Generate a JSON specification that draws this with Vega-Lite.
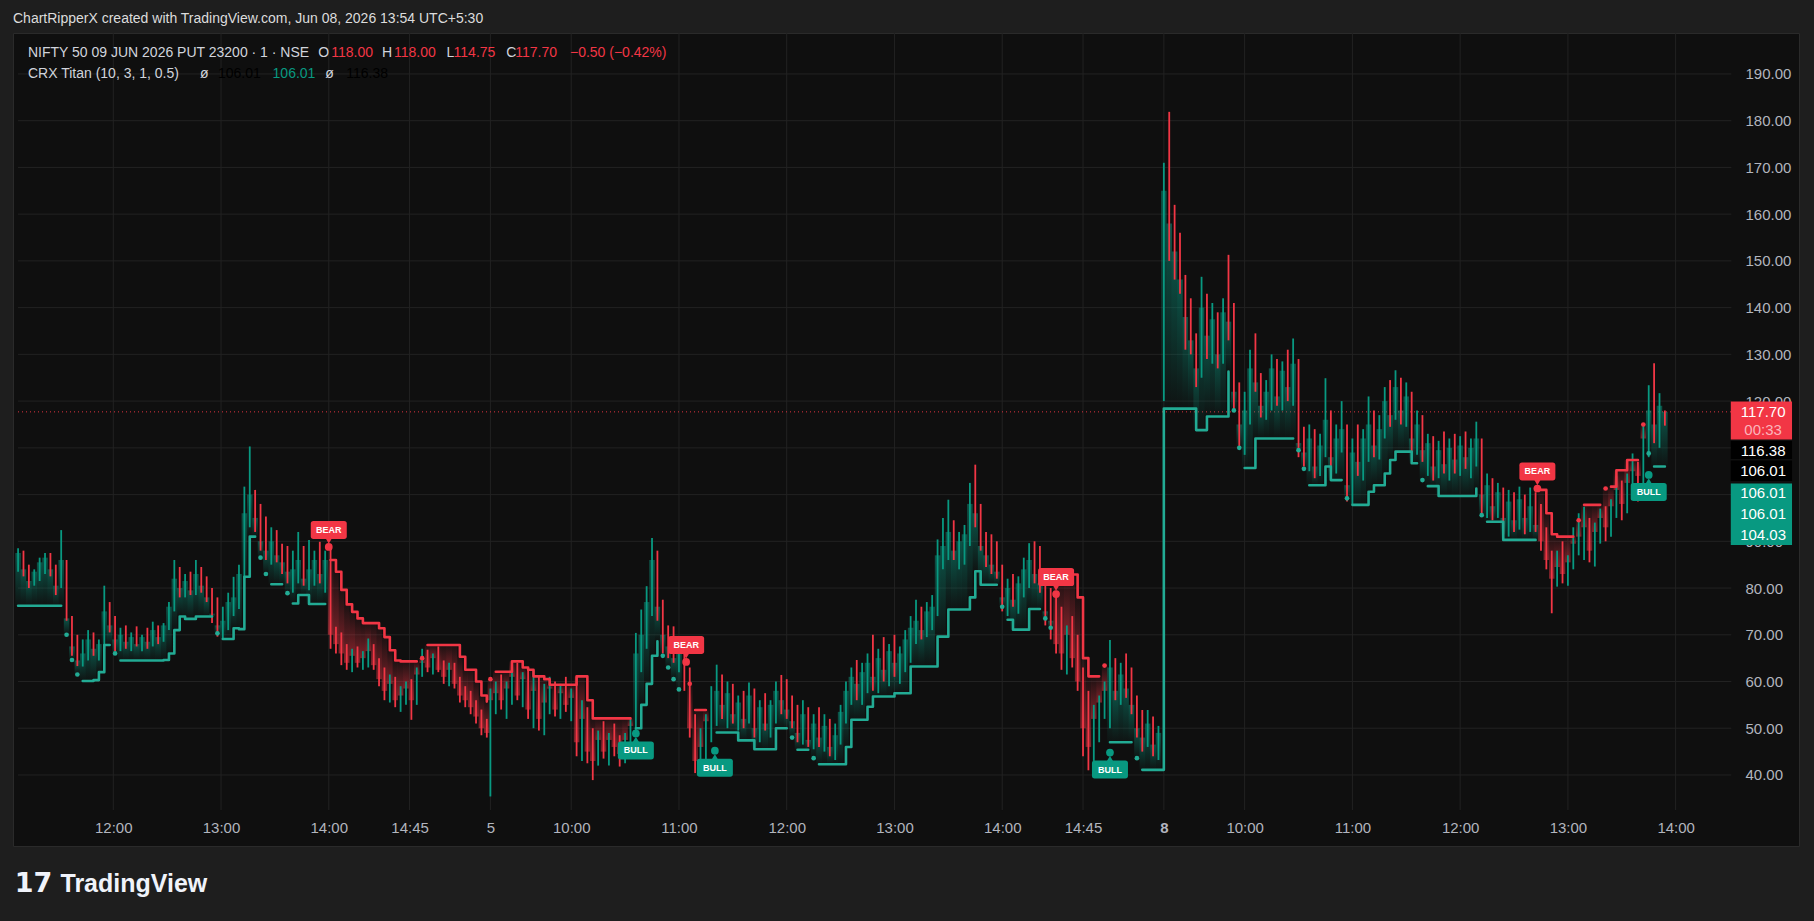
{
"$schema":"https://vega.github.io/schema/vega-lite/v6.json",
"width":1786,"height":813,
"autosize":{"type":"none"},
"padding":{"left":13,"top":33,"right":15,"bottom":75},
"background":"#1e1e1e",
"title":{"text":"ChartRipperX created with TradingView.com, Jun 08, 2026 13:54 UTC+5:30","anchor":"start","frame":"group","font":"Liberation Sans","fontSize":14,"fontWeight":"normal","color":"#dcdcdc","offset":-4,"baseline":"alphabetic"},
"config":{"view":{"fill":"#0f0f0f","stroke":"#2a2a2a","strokeWidth":1},"axis":{"grid":false,"ticks":false,"tickSize":0,"domain":false,"labelFont":"Liberation Sans","labelFontSize":15,"labelColor":"#b2b5be"},"text":{"font":"Liberation Sans"}},
"datasets":{
"hg":[{"v":40},{"v":50},{"v":60},{"v":70},{"v":80},{"v":90},{"v":100},{"v":110},{"v":120},{"v":130},{"v":140},{"v":150},{"v":160},{"v":170},{"v":180},{"v":190}],
"vg":[{"v":165},{"v":225},{"v":285},{"v":330},{"v":375},{"v":420},{"v":480},{"v":540},{"v":600},{"v":660},{"v":705},{"v":750},{"v":795},{"v":855},{"v":915},{"v":975},{"v":1035}],
"bars":[
{"i":112,"o":85,"h":88.5,"l":83.5,"c":87.5,"u":76.2},
{"i":115,"o":87.5,"h":88,"l":82.5,"c":84,"u":76.2},
{"i":118,"o":84,"h":85,"l":80,"c":81.5,"u":76.2},
{"i":121,"o":81.5,"h":84,"l":80.5,"c":83.5,"u":76.2},
{"i":124,"o":83.5,"h":86.5,"l":81.5,"c":85.5,"u":76.2},
{"i":127,"o":85.5,"h":87.5,"l":83,"c":86.5,"u":76.2},
{"i":130,"o":86.5,"h":87.5,"l":82.5,"c":84,"u":76.2},
{"i":133,"o":84,"h":85,"l":78.5,"c":80.5,"u":76.2},
{"i":136,"o":80.5,"h":92.4,"l":80,"c":86,"u":76.2},
{"i":139,"o":86,"h":86,"l":73,"c":73.5,"ud":70},
{"i":142,"o":73.5,"h":74,"l":65.5,"c":67.5,"ud":64.6},
{"i":145,"o":67.5,"h":70,"l":63.3,"c":64.5,"ud":61.5},
{"i":148,"o":64.5,"h":69,"l":63.2,"c":66,"u":60.1},
{"i":151,"o":66,"h":71,"l":64.5,"c":69,"u":60.1},
{"i":154,"o":69,"h":70.5,"l":65.5,"c":67,"u":60.3},
{"i":157,"o":67,"h":69,"l":64.5,"c":68,"u":62},
{"i":160,"o":68,"h":80.5,"l":67,"c":75,"u":67.8},
{"i":163,"o":75,"h":77,"l":70.5,"c":72,"u":67.8},
{"i":166,"o":72,"h":74,"l":66.5,"c":69,"ud":66},
{"i":169,"o":69,"h":71.5,"l":66.5,"c":70,"u":64.5},
{"i":172,"o":70,"h":72,"l":67,"c":68.5,"u":64.5},
{"i":175,"o":68.5,"h":70.5,"l":66.5,"c":69.5,"u":64.5},
{"i":178,"o":69.5,"h":71.8,"l":67.5,"c":68,"u":64.5},
{"i":181,"o":68,"h":70,"l":66.5,"c":69.5,"u":64.5},
{"i":184,"o":69.5,"h":71.5,"l":67,"c":68.5,"u":64.5},
{"i":187,"o":68.5,"h":72.8,"l":67.5,"c":71,"u":64.5},
{"i":190,"o":71,"h":72,"l":68,"c":69.5,"u":64.5},
{"i":193,"o":69.5,"h":72.5,"l":68.5,"c":72,"u":64.6},
{"i":196,"o":72,"h":77,"l":71,"c":76,"u":66},
{"i":199,"o":76,"h":86,"l":75,"c":82,"u":71},
{"i":202,"o":82,"h":84.5,"l":78,"c":80,"u":73.9},
{"i":205,"o":80,"h":83,"l":78,"c":81.5,"u":73.4},
{"i":208,"o":81.5,"h":83.5,"l":78.5,"c":79.5,"u":73.4},
{"i":211,"o":79.5,"h":86,"l":78.5,"c":83,"u":73.9},
{"i":214,"o":83,"h":84.5,"l":79,"c":80.5,"u":73.9},
{"i":217,"o":80.5,"h":82.5,"l":77,"c":78,"u":73.9},
{"i":220,"o":78,"h":80,"l":72.5,"c":74.5,"u":73.9},
{"i":223,"o":74.5,"h":78,"l":69.6,"c":72,"ud":70.3},
{"i":226,"o":72,"h":76,"l":69,"c":73,"u":69.1},
{"i":229,"o":73,"h":79,"l":71,"c":77,"u":69.1},
{"i":232,"o":77,"h":82.4,"l":74,"c":78,"u":71.4},
{"i":235,"o":78,"h":85,"l":75.5,"c":83,"u":71.2},
{"i":238,"o":83,"h":101.7,"l":82,"c":96,"u":82.4},
{"i":241,"o":96,"h":110.3,"l":93,"c":100,"u":91},
{"i":244,"o":100,"h":101,"l":92,"c":95,"u":91},
{"i":247,"o":95,"h":98,"l":88,"c":90,"ud":86.5},
{"i":250,"o":90,"h":95.3,"l":86,"c":88,"ud":83},
{"i":253,"o":88,"h":93,"l":85,"c":90,"u":80.8},
{"i":256,"o":90,"h":92.4,"l":85.5,"c":87,"u":80.8},
{"i":259,"o":87,"h":89.5,"l":83,"c":85.5,"u":80.8},
{"i":262,"o":85.5,"h":89,"l":81,"c":83.5,"ud":78.9},
{"i":265,"o":83.5,"h":88,"l":79,"c":84,"u":76.7},
{"i":268,"o":84,"h":92,"l":81,"c":86,"u":78.5},
{"i":271,"o":86,"h":89,"l":80.5,"c":82,"u":78.5},
{"i":274,"o":82,"h":90.3,"l":79.5,"c":84,"u":76.6},
{"i":277,"o":84,"h":88,"l":80.5,"c":86,"u":76.6},
{"i":280,"o":86,"h":89.9,"l":81,"c":83,"u":76.6},
{"i":283,"o":83,"h":88,"l":79,"c":86,"u":76.6},
{"i":286,"o":86,"h":88.8,"l":67,"c":70,"r":86},
{"i":289,"o":70,"h":71.7,"l":66,"c":68,"r":83.5},
{"i":292,"o":68,"h":70.5,"l":63.5,"c":66,"r":79.6},
{"i":295,"o":66,"h":68,"l":62.5,"c":64,"r":76.5},
{"i":298,"o":64,"h":67,"l":62,"c":65.5,"r":74.9},
{"i":301,"o":65.5,"h":67.5,"l":63,"c":64,"r":73.5},
{"i":304,"o":64,"h":66.5,"l":62.5,"c":65,"r":72.5},
{"i":307,"o":65,"h":69.2,"l":63,"c":66.5,"r":72.5},
{"i":310,"o":66.5,"h":68,"l":62.5,"c":63.5,"r":72.5},
{"i":313,"o":63.5,"h":65,"l":59,"c":60.5,"r":71.4},
{"i":316,"o":60.5,"h":63,"l":56,"c":58,"r":69.5},
{"i":319,"o":58,"h":61.5,"l":55.5,"c":59.5,"r":66.7},
{"i":322,"o":59.5,"h":61,"l":54.5,"c":56,"r":64.5},
{"i":325,"o":56,"h":59,"l":53.5,"c":57,"r":64.3},
{"i":328,"o":57,"h":60,"l":55,"c":58.5,"r":64.3},
{"i":331,"o":58.5,"h":60.5,"l":51.8,"c":56,"r":64.3},
{"i":334,"o":56,"h":63,"l":55,"c":61.5,"r":64.3},
{"i":337,"o":61.5,"h":67,"l":61,"c":64,"rd":65},
{"i":340,"o":64,"h":66.8,"l":62,"c":63,"r":67.8},
{"i":343,"o":63,"h":66,"l":61.5,"c":65,"r":67.8},
{"i":346,"o":65,"h":67.5,"l":62,"c":62.5,"r":67.8},
{"i":349,"o":62.5,"h":64.5,"l":59.5,"c":61,"r":67.8},
{"i":352,"o":61,"h":64,"l":59,"c":62.5,"r":67.8},
{"i":355,"o":62.5,"h":64,"l":58.5,"c":59.5,"r":67.8},
{"i":358,"o":59.5,"h":61,"l":55.5,"c":57,"r":65.3},
{"i":361,"o":57,"h":59,"l":54.5,"c":56,"r":62.5},
{"i":364,"o":56,"h":58,"l":53,"c":54.5,"r":62.5},
{"i":367,"o":54.5,"h":56,"l":51,"c":52.5,"r":60},
{"i":370,"o":52.5,"h":54,"l":48.5,"c":50,"r":57},
{"i":373,"o":50,"h":52,"l":48,"c":49,"r":55.7},
{"i":375,"o":48,"h":58.5,"l":35.4,"c":56,"rd":60.5},
{"i":378,"o":56,"h":60,"l":53,"c":57.5,"r":62.1},
{"i":381,"o":57.5,"h":61.5,"l":54,"c":56,"r":62.1},
{"i":384,"o":56,"h":60,"l":52,"c":58.5,"r":62.1},
{"i":387,"o":58.5,"h":63.5,"l":55,"c":61,"r":64.3},
{"i":390,"o":61,"h":64,"l":56,"c":57,"r":64.3},
{"i":393,"o":57,"h":62,"l":54.5,"c":60.5,"r":63},
{"i":396,"o":60.5,"h":63,"l":52,"c":54,"r":62.5},
{"i":399,"o":54,"h":62.5,"l":50,"c":58,"r":61.1},
{"i":402,"o":58,"h":61,"l":49.5,"c":52,"r":61.1},
{"i":405,"o":52,"h":59.5,"l":48.5,"c":55.5,"r":60.5},
{"i":408,"o":55.5,"h":61,"l":53,"c":58.5,"r":59.3},
{"i":411,"o":58.5,"h":60,"l":52.5,"c":54,"r":59.3},
{"i":414,"o":54,"h":59.5,"l":52,"c":57.5,"r":59.3},
{"i":417,"o":57.5,"h":61,"l":53.5,"c":55,"r":59.3},
{"i":420,"o":55,"h":58.5,"l":51.5,"c":56.5,"r":59.3},
{"i":423,"o":56.5,"h":61,"l":44,"c":47,"r":61.1},
{"i":426,"o":47,"h":56,"l":43,"c":52,"r":61.1},
{"i":429,"o":52,"h":54.5,"l":42.5,"c":45,"r":56},
{"i":432,"o":45,"h":50,"l":38.9,"c":43,"r":52.1},
{"i":435,"o":43,"h":49.5,"l":42,"c":47.5,"r":52.1},
{"i":438,"o":47.5,"h":51.5,"l":43.5,"c":45,"r":52.1},
{"i":441,"o":45,"h":49,"l":42,"c":47.5,"r":52.1},
{"i":444,"o":47.5,"h":51,"l":44,"c":46,"r":52.1},
{"i":447,"o":46,"h":48.5,"l":41.8,"c":44.5,"r":52.1},
{"i":450,"o":44.5,"h":49,"l":42.5,"c":47.5,"r":52.1},
{"i":453,"o":47.5,"h":52,"l":45,"c":50.5,"r":52.1},
{"i":456,"o":50.5,"h":70.4,"l":48.5,"c":66,"u":50},
{"i":459,"o":66,"h":75.4,"l":62,"c":70,"u":55},
{"i":462,"o":70,"h":80.4,"l":67,"c":77,"u":59.5},
{"i":465,"o":77,"h":90.7,"l":74,"c":86,"u":65.5},
{"i":468,"o":86,"h":88,"l":73,"c":76,"u":68.6},
{"i":471,"o":76,"h":77.5,"l":66,"c":70,"ud":65.5},
{"i":474,"o":70,"h":72,"l":65,"c":67.5,"ud":63},
{"i":477,"o":67.5,"h":71.8,"l":64,"c":65,"ud":60.5},
{"i":480,"o":65,"h":68.5,"l":62,"c":66.5,"ud":58.3},
{"i":483,"o":66.5,"h":67.5,"l":58,"c":60},
{"i":486,"o":60,"h":63,"l":48,"c":50,"rd":59.5},
{"i":489,"o":50,"h":53,"l":40.4,"c":43,"r":53.9},
{"i":492,"o":43,"h":50,"l":41.5,"c":46,"r":53.9},
{"i":495,"o":46,"h":53,"l":43,"c":51.5,"r":53.9},
{"i":498,"o":51.5,"h":59,"l":47,"c":55},
{"i":501,"o":55,"h":63.6,"l":50.5,"c":58,"u":49.1},
{"i":504,"o":58,"h":61.5,"l":52,"c":55,"u":49.1},
{"i":507,"o":55,"h":60,"l":50,"c":57.5,"u":49.1},
{"i":510,"o":57.5,"h":59.5,"l":51,"c":53,"u":49.1},
{"i":513,"o":53,"h":57,"l":49.5,"c":55.5,"u":47.4},
{"i":516,"o":55.5,"h":58,"l":50,"c":52,"u":47.4},
{"i":519,"o":52,"h":59.8,"l":51,"c":57,"u":47.4},
{"i":522,"o":57,"h":58.5,"l":48,"c":50,"u":45.5},
{"i":525,"o":50,"h":56,"l":47,"c":54.5,"u":45.5},
{"i":528,"o":54.5,"h":57.5,"l":49.5,"c":51,"u":45.5},
{"i":531,"o":51,"h":56,"l":48,"c":55,"u":45.5},
{"i":534,"o":55,"h":60,"l":51,"c":58,"u":50},
{"i":537,"o":58,"h":61.4,"l":53,"c":56,"u":50},
{"i":540,"o":56,"h":60.5,"l":52,"c":54,"u":50},
{"i":543,"o":54,"h":57,"l":50,"c":51.5,"ud":48},
{"i":546,"o":51.5,"h":55,"l":47,"c":49,"u":45.4},
{"i":549,"o":49,"h":56,"l":46.5,"c":53,"u":45.4},
{"i":552,"o":53,"h":54.5,"l":46,"c":47.5,"u":45.4},
{"i":555,"o":47.5,"h":53,"l":45.5,"c":51,"ud":43.6},
{"i":558,"o":51,"h":54.5,"l":46,"c":48,"u":42.3},
{"i":561,"o":48,"h":53,"l":45,"c":50.5,"u":42.3},
{"i":564,"o":50.5,"h":52,"l":44,"c":46,"u":42.3},
{"i":567,"o":46,"h":51,"l":43.2,"c":48.5,"u":42.3},
{"i":570,"o":48.5,"h":55,"l":46.5,"c":53.5,"u":42.3},
{"i":573,"o":53.5,"h":60,"l":51,"c":58,"u":46},
{"i":576,"o":58,"h":63,"l":55,"c":61,"u":51.8},
{"i":579,"o":61,"h":64.6,"l":56,"c":59.5,"u":51.8},
{"i":582,"o":59.5,"h":64,"l":55,"c":62,"u":51.8},
{"i":585,"o":62,"h":66,"l":57.5,"c":64,"u":54.6},
{"i":588,"o":64,"h":70,"l":58,"c":61,"u":56.8},
{"i":591,"o":61,"h":67,"l":57.5,"c":65,"u":56.8},
{"i":594,"o":65,"h":69.5,"l":60,"c":62.5,"u":56.8},
{"i":597,"o":62.5,"h":68,"l":59,"c":66.5,"u":56.8},
{"i":600,"o":66.5,"h":70,"l":61,"c":64,"u":57.5},
{"i":603,"o":64,"h":67.5,"l":59.5,"c":66,"u":57.5},
{"i":606,"o":66,"h":71,"l":62,"c":69,"u":57.5},
{"i":609,"o":69,"h":74,"l":64,"c":71.5,"u":63.2},
{"i":612,"o":71.5,"h":77.5,"l":68,"c":73,"u":63.2},
{"i":615,"o":73,"h":76,"l":69,"c":71,"u":63.2},
{"i":618,"o":71,"h":77,"l":69.5,"c":75,"u":63.2},
{"i":621,"o":75,"h":78.5,"l":71,"c":76,"u":63.2},
{"i":624,"o":76,"h":90.4,"l":74,"c":87,"u":69.6},
{"i":627,"o":87,"h":95,"l":84,"c":89,"u":69.6},
{"i":630,"o":89,"h":98.9,"l":86,"c":92,"u":75.4},
{"i":633,"o":92,"h":94.5,"l":86,"c":88,"u":75.4},
{"i":636,"o":88,"h":92,"l":84,"c":90,"u":75.4},
{"i":639,"o":90,"h":93.5,"l":85,"c":91.5,"u":75.4},
{"i":642,"o":91.5,"h":102.5,"l":89,"c":98,"u":78},
{"i":645,"o":98,"h":106.4,"l":93,"c":96,"u":83.6},
{"i":648,"o":96,"h":98,"l":88,"c":89,"u":80.7},
{"i":651,"o":89,"h":92,"l":84.5,"c":87,"u":80.7},
{"i":654,"o":87,"h":91.5,"l":83,"c":85,"u":80.7},
{"i":657,"o":85,"h":90,"l":82,"c":83.5,"u":80.7},
{"i":660,"o":83.5,"h":85,"l":75,"c":78,"ud":76},
{"i":663,"o":78,"h":82,"l":74,"c":80,"u":73.2},
{"i":666,"o":80,"h":83,"l":76,"c":77.5,"u":71.1},
{"i":669,"o":77.5,"h":82.5,"l":74.5,"c":81,"u":71.1},
{"i":672,"o":81,"h":86.5,"l":78,"c":84,"u":71.1},
{"i":675,"o":84,"h":89.6,"l":80,"c":86,"u":75.5},
{"i":678,"o":86,"h":90,"l":81,"c":83,"u":75.5},
{"i":681,"o":83,"h":89,"l":79,"c":81,"u":75.5},
{"i":684,"o":81,"h":84,"l":72,"c":75,"ud":73.5},
{"i":687,"o":75,"h":80,"l":69,"c":73,"ud":71.5},
{"i":690,"o":73,"h":79,"l":66,"c":68,"r":82.9},
{"i":693,"o":68,"h":76,"l":62.5,"c":66,"r":82.9},
{"i":696,"o":66,"h":72,"l":61.5,"c":70,"r":82.9},
{"i":699,"o":70,"h":74,"l":63,"c":65,"r":82.9},
{"i":702,"o":65,"h":70,"l":58,"c":60,"r":78},
{"i":705,"o":60,"h":63,"l":44,"c":50,"r":65},
{"i":708,"o":50,"h":58,"l":41,"c":46,"r":61.1},
{"i":711,"o":46,"h":55,"l":43,"c":52,"r":61.1},
{"i":714,"o":52,"h":57,"l":47,"c":55.5,"r":61.1},
{"i":717,"o":55.5,"h":60,"l":52,"c":58,"rd":63.4},
{"i":720,"o":58,"h":68.9,"l":50,"c":63,"u":47},
{"i":723,"o":63,"h":65,"l":56,"c":58,"u":47},
{"i":726,"o":58,"h":64,"l":55,"c":61.5,"u":47},
{"i":729,"o":61.5,"h":66,"l":56.5,"c":58.5,"u":47},
{"i":732,"o":58.5,"h":63,"l":53,"c":55,"u":47},
{"i":735,"o":55,"h":57,"l":48,"c":50,"ud":43.6},
{"i":738,"o":50,"h":53.9,"l":45,"c":48,"u":41.1},
{"i":741,"o":48,"h":53.9,"l":46,"c":51,"u":41.1},
{"i":744,"o":51,"h":52.5,"l":44,"c":46.5,"u":41.1},
{"i":747,"o":46.5,"h":50.5,"l":43.2,"c":49,"u":41.1},
{"i":750,"o":125.9,"h":171,"l":120,"c":165,"u":118.4},
{"i":753,"o":165,"h":181.9,"l":150,"c":158,"u":118.4},
{"i":756,"o":158,"h":162,"l":146,"c":152,"u":118.4},
{"i":759,"o":152,"h":156,"l":143,"c":146,"u":118.4},
{"i":762,"o":146,"h":147,"l":131,"c":138,"u":118.4},
{"i":765,"o":138,"h":142,"l":130,"c":133,"u":118.4},
{"i":768,"o":133,"h":134.5,"l":123,"c":127,"u":113.8},
{"i":771,"o":127,"h":146.6,"l":125,"c":140,"u":113.8},
{"i":774,"o":140,"h":143,"l":129,"c":134,"u":116.7},
{"i":777,"o":134,"h":141,"l":128,"c":137.5,"u":116.7},
{"i":780,"o":137.5,"h":139,"l":127,"c":130,"u":116.7},
{"i":783,"o":130,"h":142,"l":128,"c":139,"u":116.7},
{"i":786,"o":139,"h":151.3,"l":133,"c":137,"u":126.3},
{"i":789,"o":137,"h":141,"l":118,"c":122,"ud":118},
{"i":792,"o":122,"h":124,"l":110,"c":115,"ud":110},
{"i":795,"o":115,"h":122,"l":108.5,"c":118,"u":105.7},
{"i":798,"o":118,"h":131,"l":115,"c":127,"u":105.7},
{"i":801,"o":127,"h":134.5,"l":122,"c":124,"u":112},
{"i":804,"o":124,"h":126,"l":116.5,"c":119,"u":112},
{"i":807,"o":119,"h":124.5,"l":116,"c":122,"u":112},
{"i":810,"o":122,"h":130,"l":118,"c":127,"u":112},
{"i":813,"o":127,"h":129,"l":119,"c":121,"u":112},
{"i":816,"o":121,"h":128.5,"l":118,"c":126.5,"u":112},
{"i":819,"o":126.5,"h":131,"l":120,"c":123,"u":112},
{"i":822,"o":123,"h":133.4,"l":119,"c":128,"u":112},
{"i":825,"o":128,"h":129,"l":108,"c":111,"ud":109.5},
{"i":828,"o":111,"h":114.5,"l":106,"c":109,"ud":105.5},
{"i":831,"o":109,"h":115,"l":105,"c":112,"u":102},
{"i":834,"o":112,"h":114,"l":103.5,"c":106,"u":102},
{"i":837,"o":106,"h":113,"l":104,"c":110.5,"u":102},
{"i":840,"o":110.5,"h":124.9,"l":108,"c":116,"u":106},
{"i":843,"o":116,"h":118,"l":105,"c":108,"u":103.1},
{"i":846,"o":108,"h":115,"l":104.5,"c":112,"u":103.1},
{"i":849,"o":112,"h":120,"l":109,"c":114,"u":103.1},
{"i":852,"o":114,"h":115,"l":98.5,"c":102,"ud":99.2},
{"i":855,"o":102,"h":112,"l":98,"c":109,"u":97.8},
{"i":858,"o":109,"h":115,"l":104,"c":107,"u":97.8},
{"i":861,"o":107,"h":114,"l":103,"c":112,"u":97.8},
{"i":864,"o":112,"h":121,"l":107,"c":115,"u":100.6},
{"i":867,"o":115,"h":118,"l":108,"c":110.5,"u":102},
{"i":870,"o":110.5,"h":117,"l":107.5,"c":114,"u":102},
{"i":873,"o":114,"h":123,"l":112,"c":120,"u":104.5},
{"i":876,"o":120,"h":124.5,"l":114.5,"c":117,"u":107.4},
{"i":879,"o":117,"h":126.6,"l":116,"c":123,"u":109.2},
{"i":882,"o":123,"h":125,"l":115,"c":118,"u":109.2},
{"i":885,"o":118,"h":124,"l":114.5,"c":121,"u":109.2},
{"i":888,"o":121,"h":122,"l":109,"c":112,"u":106.7},
{"i":891,"o":112,"h":118,"l":108.5,"c":115,"u":106.7},
{"i":894,"o":115,"h":117,"l":107,"c":109.5,"ud":103.1},
{"i":897,"o":109.5,"h":113,"l":104,"c":111,"u":101.8},
{"i":900,"o":111,"h":112.5,"l":103,"c":106,"u":101.8},
{"i":903,"o":106,"h":111.5,"l":103.5,"c":109.5,"u":99.7},
{"i":906,"o":109.5,"h":113.5,"l":104.5,"c":106.5,"u":99.7},
{"i":909,"o":106.5,"h":112,"l":103,"c":110,"u":99.7},
{"i":912,"o":110,"h":113,"l":104.5,"c":107.5,"u":99.7},
{"i":915,"o":107.5,"h":112.5,"l":104,"c":110.5,"u":99.7},
{"i":918,"o":110.5,"h":113.5,"l":105.5,"c":108,"u":99.7},
{"i":921,"o":108,"h":112,"l":103.5,"c":110,"u":99.7},
{"i":924,"o":110,"h":115.6,"l":106,"c":112,"u":101.3},
{"i":927,"o":112,"h":112,"l":96,"c":100,"ud":95.6},
{"i":930,"o":100,"h":104.5,"l":95,"c":102,"u":94.2},
{"i":933,"o":102,"h":103.5,"l":94.5,"c":97.5,"u":94.2},
{"i":936,"o":97.5,"h":102.5,"l":95,"c":100.5,"u":94.2},
{"i":939,"o":100.5,"h":101.5,"l":91.5,"c":95,"u":90.3},
{"i":942,"o":95,"h":101,"l":91,"c":98.5,"u":90.3},
{"i":945,"o":98.5,"h":100.5,"l":92,"c":94.5,"u":90.3},
{"i":948,"o":94.5,"h":101.7,"l":92.5,"c":99,"u":90.3},
{"i":951,"o":99,"h":100,"l":91.5,"c":95,"u":90.3},
{"i":954,"o":95,"h":101.5,"l":92,"c":97.5,"u":90.3},
{"i":957,"o":97.5,"h":100.5,"l":92,"c":93.5,"u":90.3},
{"i":960,"o":93.5,"h":98,"l":88,"c":90,"r":101},
{"i":963,"o":90,"h":93,"l":84,"c":86,"r":96},
{"i":966,"o":86,"h":88,"l":74.6,"c":82,"r":91.5},
{"i":969,"o":82,"h":88,"l":80.3,"c":84.5,"r":91},
{"i":972,"o":84.5,"h":90,"l":81,"c":83,"r":91},
{"i":975,"o":83,"h":87,"l":80.5,"c":85.5,"r":91},
{"i":978,"o":85.5,"h":93,"l":84,"c":89.5,"r":91},
{"i":981,"o":89.5,"h":96,"l":87,"c":91,"rd":94.5},
{"i":984,"o":91,"h":97.4,"l":86,"c":93,"r":97.8},
{"i":987,"o":93,"h":95,"l":85.5,"c":88,"r":97.8},
{"i":990,"o":88,"h":94,"l":84.6,"c":92,"r":97.8},
{"i":993,"o":92,"h":97,"l":89.5,"c":95,"r":97.8},
{"i":996,"o":95,"h":97.5,"l":90,"c":93,"rd":101.3},
{"i":999,"o":93,"h":99,"l":91,"c":97.5,"r":101.7},
{"i":1002,"o":97.5,"h":104,"l":95,"c":101,"r":105.2},
{"i":1005,"o":101,"h":103,"l":94.5,"c":98,"r":105.2},
{"i":1008,"o":98,"h":104.5,"l":96,"c":102.5,"r":107.4},
{"i":1011,"o":102.5,"h":108.8,"l":99,"c":105,"r":107.4},
{"i":1014,"o":105,"h":107,"l":98.5,"c":104,"r":107.4},
{"i":1017,"o":104,"h":115,"l":102,"c":112,"rd":115},
{"i":1020,"o":112,"h":123.4,"l":108,"c":118,"ud":108.8},
{"i":1023,"o":118,"h":128.1,"l":111,"c":115,"u":106},
{"i":1026,"o":115,"h":121.7,"l":110,"c":119,"u":106},
{"i":1029,"o":118,"h":118,"l":114.75,"c":117.7,"u":106}
],
"sig":[{"i":285,"p":88.8,"s":"BEAR"},{"i":456,"p":48.9,"s":"BULL"},{"i":484,"p":64.2,"s":"BEAR"},{"i":500,"p":45.2,"s":"BULL"},{"i":690,"p":78.7,"s":"BEAR"},{"i":720,"p":44.8,"s":"BULL"},{"i":958,"p":101.3,"s":"BEAR"},{"i":1020,"p":104.2,"s":"BULL"}],
"leg":[
{"x":117.5,"y":194.45,"t":"NIFTY 50 09 JUN 2026 PUT 23200 · 1 · NSE","k":"g"},
{"x":279.2,"y":194.45,"t":"O","k":"g"},
{"x":286.4,"y":194.45,"t":"118.00","k":"r"},
{"x":314.6,"y":194.45,"t":"H","k":"g"},
{"x":321.3,"y":194.45,"t":"118.00","k":"r"},
{"x":350.6,"y":194.45,"t":"L","k":"g"},
{"x":354.5,"y":194.45,"t":"114.75","k":"r"},
{"x":383.8,"y":194.45,"t":"C","k":"g"},
{"x":388.8,"y":194.45,"t":"117.70","k":"r"},
{"x":419.3,"y":194.45,"t":"−0.50 (−0.42%)","k":"r"},
{"x":117.5,"y":190,"t":"CRX Titan (10, 3, 1, 0.5)","k":"g"},
{"x":213.3,"y":190,"t":"ø","k":"g"},
{"x":223.3,"y":190,"t":"106.01","k":"d"},
{"x":253.7,"y":190,"t":"106.01","k":"u"},
{"x":283.1,"y":190,"t":"ø","k":"g"},
{"x":294.7,"y":190,"t":"116.38","k":"d"}
],
"tags":[{"k":"last","hi":119.92,"lo":111.76},{"k":"ind","hi":111.46,"lo":107.61},{"k":"ind","hi":107.29,"lo":102.9},{"k":"trail","hi":102.35,"lo":89.21}],
"tagt":[{"t":"117.70","y":117.67},{"t":"00:33","y":113.73},{"t":"116.38","y":109.41},{"t":"106.01","y":104.94},{"t":"106.01","y":100.36},{"t":"106.01","y":95.91},{"t":"104.03","y":91.45}]
},
"layer":[
{"data":{"name":"hg"},"mark":{"type":"rule","stroke":"#222222","strokeWidth":1},
 "encoding":{"y":{"field":"v","type":"quantitative","scale":{"domain":[24.8,198.77],"nice":false,"zero":false}},"x":{"datum":111.95,"type":"quantitative","scale":{"domain":[111.95,1100.9],"nice":false,"zero":false}},"x2":{"datum":1066}}},
{"data":{"name":"vg"},"mark":{"type":"rule","stroke":"#222222","strokeWidth":1},
 "encoding":{"x":{"field":"v","type":"quantitative","scale":{"domain":[111.95,1100.9],"nice":false,"zero":false}},"y":{"datum":32.5,"type":"quantitative","scale":{"domain":[24.8,198.77],"nice":false,"zero":false}},"y2":{"datum":198.77}}},
{"data":{"values":[{"p":117.7}]},"mark":{"type":"rule","stroke":"#f23645","strokeWidth":1,"strokeDash":[1,3],"opacity":0.9},
 "encoding":{"y":{"field":"p","type":"quantitative","scale":{"domain":[24.8,198.77],"nice":false,"zero":false}},"x":{"datum":111.95,"type":"quantitative","scale":{"domain":[111.95,1100.9],"nice":false,"zero":false}},"x2":{"datum":1066}}},
{"data":{"name":"bars"},"transform":[{"filter":"isValid(datum.u)"}],
 "mark":{"type":"bar","width":5.5,"clip":true,"fill":{"gradient":"linear","x1":0,"y1":0,"x2":0,"y2":1,"stops":[{"offset":0,"color":"rgba(8,153,129,0.5)"},{"offset":1,"color":"rgba(8,153,129,0.03)"}]}},
 "encoding":{"x":{"field":"i","type":"quantitative","scale":{"domain":[111.95,1100.9],"nice":false,"zero":false}},"y":{"field":"c","type":"quantitative","scale":{"domain":[24.8,198.77],"nice":false,"zero":false}},"y2":{"field":"u"}}},
{"data":{"name":"bars"},"transform":[{"filter":"isValid(datum.ud)"}],
 "mark":{"type":"bar","width":5.5,"clip":true,"fill":{"gradient":"linear","x1":0,"y1":0,"x2":0,"y2":1,"stops":[{"offset":0,"color":"rgba(8,153,129,0.5)"},{"offset":1,"color":"rgba(8,153,129,0.03)"}]}},
 "encoding":{"x":{"field":"i","type":"quantitative","scale":{"domain":[111.95,1100.9],"nice":false,"zero":false}},"y":{"field":"c","type":"quantitative","scale":{"domain":[24.8,198.77],"nice":false,"zero":false}},"y2":{"field":"ud"}}},
{"data":{"name":"bars"},"transform":[{"filter":"isValid(datum.r)"}],
 "mark":{"type":"bar","width":5.5,"clip":true,"fill":{"gradient":"linear","x1":0,"y1":0,"x2":0,"y2":1,"stops":[{"offset":0,"color":"rgba(242,54,69,0.06)"},{"offset":1,"color":"rgba(242,54,69,0.5)"}]}},
 "encoding":{"x":{"field":"i","type":"quantitative","scale":{"domain":[111.95,1100.9],"nice":false,"zero":false}},"y":{"field":"r","type":"quantitative","scale":{"domain":[24.8,198.77],"nice":false,"zero":false}},"y2":{"field":"c"}}},
{"data":{"name":"bars"},"transform":[{"filter":"isValid(datum.rd)"}],
 "mark":{"type":"bar","width":5.5,"clip":true,"fill":{"gradient":"linear","x1":0,"y1":0,"x2":0,"y2":1,"stops":[{"offset":0,"color":"rgba(242,54,69,0.06)"},{"offset":1,"color":"rgba(242,54,69,0.5)"}]}},
 "encoding":{"x":{"field":"i","type":"quantitative","scale":{"domain":[111.95,1100.9],"nice":false,"zero":false}},"y":{"field":"rd","type":"quantitative","scale":{"domain":[24.8,198.77],"nice":false,"zero":false}},"y2":{"field":"c"}}},
{"data":{"name":"bars"},"mark":{"type":"rule","strokeWidth":1.8,"clip":true},
 "encoding":{"x":{"field":"i","type":"quantitative","scale":{"domain":[111.95,1100.9],"nice":false,"zero":false},
   "axis":{"orient":"bottom","offset":-36,"values":[165,225,285,330,375,420,480,540,600,660,705,750,795,855,915,975,1035],"labelExpr":"datum.value % 375 == 0 ? (datum.value == 375 ? '5' : '8') : floor((555 + datum.value % 375) / 60) + ':' + ((555 + datum.value % 375) % 60 < 10 ? '0' : '') + (555 + datum.value % 375) % 60","labelFontWeight":{"condition":{"test":"datum.value == 750","value":"bold"},"value":"normal"},"labelPadding":10,"labelOverlap":false,"labelFlush":false,"labelBaseline":"top","title":"TradingView","titleX":47,"titleY":73,"titleAlign":"left","titleAnchor":"start","titleBaseline":"middle","titleFont":"Liberation Sans","titleFontSize":25,"titleFontWeight":"bold","titleColor":"#f0f3fa"}},
  "y":{"field":"l","type":"quantitative","scale":{"domain":[24.8,198.77],"nice":false,"zero":false},
   "axis":{"orient":"right","offset":-63,"values":[40,50,60,70,80,90,120,130,140,150,160,170,180,190],"format":".2f","labelPadding":9,"labelAlign":"left","labelBaseline":"middle","labelOverlap":false,"labelFlush":false,"title":"17","titleAngle":0,"titleX":-1703,"titleY":850,"titleAlign":"center","titleBaseline":"middle","titleFont":"DejaVu Sans","titleFontSize":27,"titleFontWeight":900,"titleColor":"#f0f3fa"}},
  "y2":{"field":"h"},
  "color":{"condition":{"test":"datum.c >= datum.o","value":"#089981"},"value":"#f23645"}}},
{"data":{"name":"bars"},"mark":{"type":"line","interpolate":"step-after","stroke":"#22ab94","strokeWidth":2.6,"strokeJoin":"round","strokeCap":"round","clip":true},
 "encoding":{"x":{"field":"i","type":"quantitative","scale":{"domain":[111.95,1100.9],"nice":false,"zero":false}},"y":{"field":"u","type":"quantitative","scale":{"domain":[24.8,198.77],"nice":false,"zero":false}}}},
{"data":{"name":"bars"},"mark":{"type":"line","interpolate":"step-after","stroke":"#f23645","strokeWidth":2.6,"strokeJoin":"round","strokeCap":"round","clip":true},
 "encoding":{"x":{"field":"i","type":"quantitative","scale":{"domain":[111.95,1100.9],"nice":false,"zero":false}},"y":{"field":"r","type":"quantitative","scale":{"domain":[24.8,198.77],"nice":false,"zero":false}}}},
{"data":{"name":"bars"},"transform":[{"filter":"isValid(datum.ud)"}],"mark":{"type":"point","shape":"circle","filled":true,"fill":"#22ab94","opacity":1,"strokeWidth":0,"size":22},
 "encoding":{"x":{"field":"i","type":"quantitative","scale":{"domain":[111.95,1100.9],"nice":false,"zero":false}},"y":{"field":"ud","type":"quantitative","scale":{"domain":[24.8,198.77],"nice":false,"zero":false}}}},
{"data":{"name":"bars"},"transform":[{"filter":"isValid(datum.rd)"}],"mark":{"type":"point","shape":"circle","filled":true,"fill":"#f23645","opacity":1,"strokeWidth":0,"size":22},
 "encoding":{"x":{"field":"i","type":"quantitative","scale":{"domain":[111.95,1100.9],"nice":false,"zero":false}},"y":{"field":"rd","type":"quantitative","scale":{"domain":[24.8,198.77],"nice":false,"zero":false}}}},
{"data":{"name":"sig"},"transform":[{"filter":"datum.s == 'BEAR'"}],"mark":{"type":"point","shape":"M-0.85,-0.5L0.85,-0.5Q1,-0.5 1,-0.35L1,0.35Q1,0.5 0.85,0.5L-0.85,0.5Q-1,0.5 -1,0.35L-1,-0.35Q-1,-0.5 -0.85,-0.5Z","size":1296,"filled":true,"fill":"#f23645","opacity":1,"strokeWidth":0,"yOffset":-17},
 "encoding":{"x":{"field":"i","type":"quantitative","scale":{"domain":[111.95,1100.9],"nice":false,"zero":false}},"y":{"field":"p","type":"quantitative","scale":{"domain":[24.8,198.77],"nice":false,"zero":false}}}},
{"data":{"name":"sig"},"transform":[{"filter":"datum.s == 'BEAR'"}],"mark":{"type":"point","shape":"triangle-down","size":40,"filled":true,"fill":"#f23645","opacity":1,"strokeWidth":0,"yOffset":-6},
 "encoding":{"x":{"field":"i","type":"quantitative","scale":{"domain":[111.95,1100.9],"nice":false,"zero":false}},"y":{"field":"p","type":"quantitative","scale":{"domain":[24.8,198.77],"nice":false,"zero":false}}}},
{"data":{"name":"sig"},"transform":[{"filter":"datum.s == 'BEAR'"}],"mark":{"type":"point","shape":"circle","size":60,"filled":true,"fill":"#f23645","opacity":1,"strokeWidth":0},
 "encoding":{"x":{"field":"i","type":"quantitative","scale":{"domain":[111.95,1100.9],"nice":false,"zero":false}},"y":{"field":"p","type":"quantitative","scale":{"domain":[24.8,198.77],"nice":false,"zero":false}}}},
{"data":{"name":"sig"},"transform":[{"filter":"datum.s == 'BEAR'"}],"mark":{"type":"text","text":"BEAR","font":"Liberation Sans","fontSize":9,"fontWeight":"bold","color":"#ffffff","dy":-17,"baseline":"middle","align":"center"},
 "encoding":{"x":{"field":"i","type":"quantitative","scale":{"domain":[111.95,1100.9],"nice":false,"zero":false}},"y":{"field":"p","type":"quantitative","scale":{"domain":[24.8,198.77],"nice":false,"zero":false}}}},
{"data":{"name":"sig"},"transform":[{"filter":"datum.s == 'BULL'"}],"mark":{"type":"point","shape":"M-0.85,-0.5L0.85,-0.5Q1,-0.5 1,-0.35L1,0.35Q1,0.5 0.85,0.5L-0.85,0.5Q-1,0.5 -1,0.35L-1,-0.35Q-1,-0.5 -0.85,-0.5Z","size":1296,"filled":true,"fill":"#089981","opacity":1,"strokeWidth":0,"yOffset":17},
 "encoding":{"x":{"field":"i","type":"quantitative","scale":{"domain":[111.95,1100.9],"nice":false,"zero":false}},"y":{"field":"p","type":"quantitative","scale":{"domain":[24.8,198.77],"nice":false,"zero":false}}}},
{"data":{"name":"sig"},"transform":[{"filter":"datum.s == 'BULL'"}],"mark":{"type":"point","shape":"triangle-up","size":40,"filled":true,"fill":"#089981","opacity":1,"strokeWidth":0,"yOffset":6},
 "encoding":{"x":{"field":"i","type":"quantitative","scale":{"domain":[111.95,1100.9],"nice":false,"zero":false}},"y":{"field":"p","type":"quantitative","scale":{"domain":[24.8,198.77],"nice":false,"zero":false}}}},
{"data":{"name":"sig"},"transform":[{"filter":"datum.s == 'BULL'"}],"mark":{"type":"point","shape":"circle","size":60,"filled":true,"fill":"#089981","opacity":1,"strokeWidth":0},
 "encoding":{"x":{"field":"i","type":"quantitative","scale":{"domain":[111.95,1100.9],"nice":false,"zero":false}},"y":{"field":"p","type":"quantitative","scale":{"domain":[24.8,198.77],"nice":false,"zero":false}}}},
{"data":{"name":"sig"},"transform":[{"filter":"datum.s == 'BULL'"}],"mark":{"type":"text","text":"BULL","font":"Liberation Sans","fontSize":9,"fontWeight":"bold","color":"#ffffff","dy":17,"baseline":"middle","align":"center"},
 "encoding":{"x":{"field":"i","type":"quantitative","scale":{"domain":[111.95,1100.9],"nice":false,"zero":false}},"y":{"field":"p","type":"quantitative","scale":{"domain":[24.8,198.77],"nice":false,"zero":false}}}},
{"data":{"name":"leg"},"mark":{"type":"text","font":"Liberation Sans","fontSize":14,"align":"left","baseline":"middle"},
 "encoding":{"x":{"field":"x","type":"quantitative","scale":{"domain":[111.95,1100.9],"nice":false,"zero":false}},"y":{"field":"y","type":"quantitative","scale":{"domain":[24.8,198.77],"nice":false,"zero":false}},"text":{"field":"t"},
  "color":{"condition":[{"test":"datum.k == 'r'","value":"#f23645"},{"test":"datum.k == 'd'","value":"#000000"},{"test":"datum.k == 'u'","value":"#089981"}],"value":"#d1d4dc"}}},
{"data":{"name":"tags"},"mark":{"type":"rect"},
 "encoding":{"x":{"datum":1065.7,"type":"quantitative","scale":{"domain":[111.95,1100.9],"nice":false,"zero":false}},"x2":{"datum":1099.8},"y":{"field":"hi","type":"quantitative","scale":{"domain":[24.8,198.77],"nice":false,"zero":false}},"y2":{"field":"lo"},
  "color":{"condition":[{"test":"datum.k == 'last'","value":"#f23645"},{"test":"datum.k == 'ind'","value":"#000000"}],"value":"#089981"}}},
{"data":{"name":"tagt"},"mark":{"type":"text","font":"Liberation Sans","fontSize":15,"align":"center","baseline":"middle"},
 "encoding":{"x":{"datum":1083.7,"type":"quantitative","scale":{"domain":[111.95,1100.9],"nice":false,"zero":false}},"y":{"field":"y","type":"quantitative","scale":{"domain":[24.8,198.77],"nice":false,"zero":false}},"text":{"field":"t"},
  "color":{"condition":{"test":"datum.t == '00:33'","value":"#fbb4bb"},"value":"#ffffff"}}}
]
}
